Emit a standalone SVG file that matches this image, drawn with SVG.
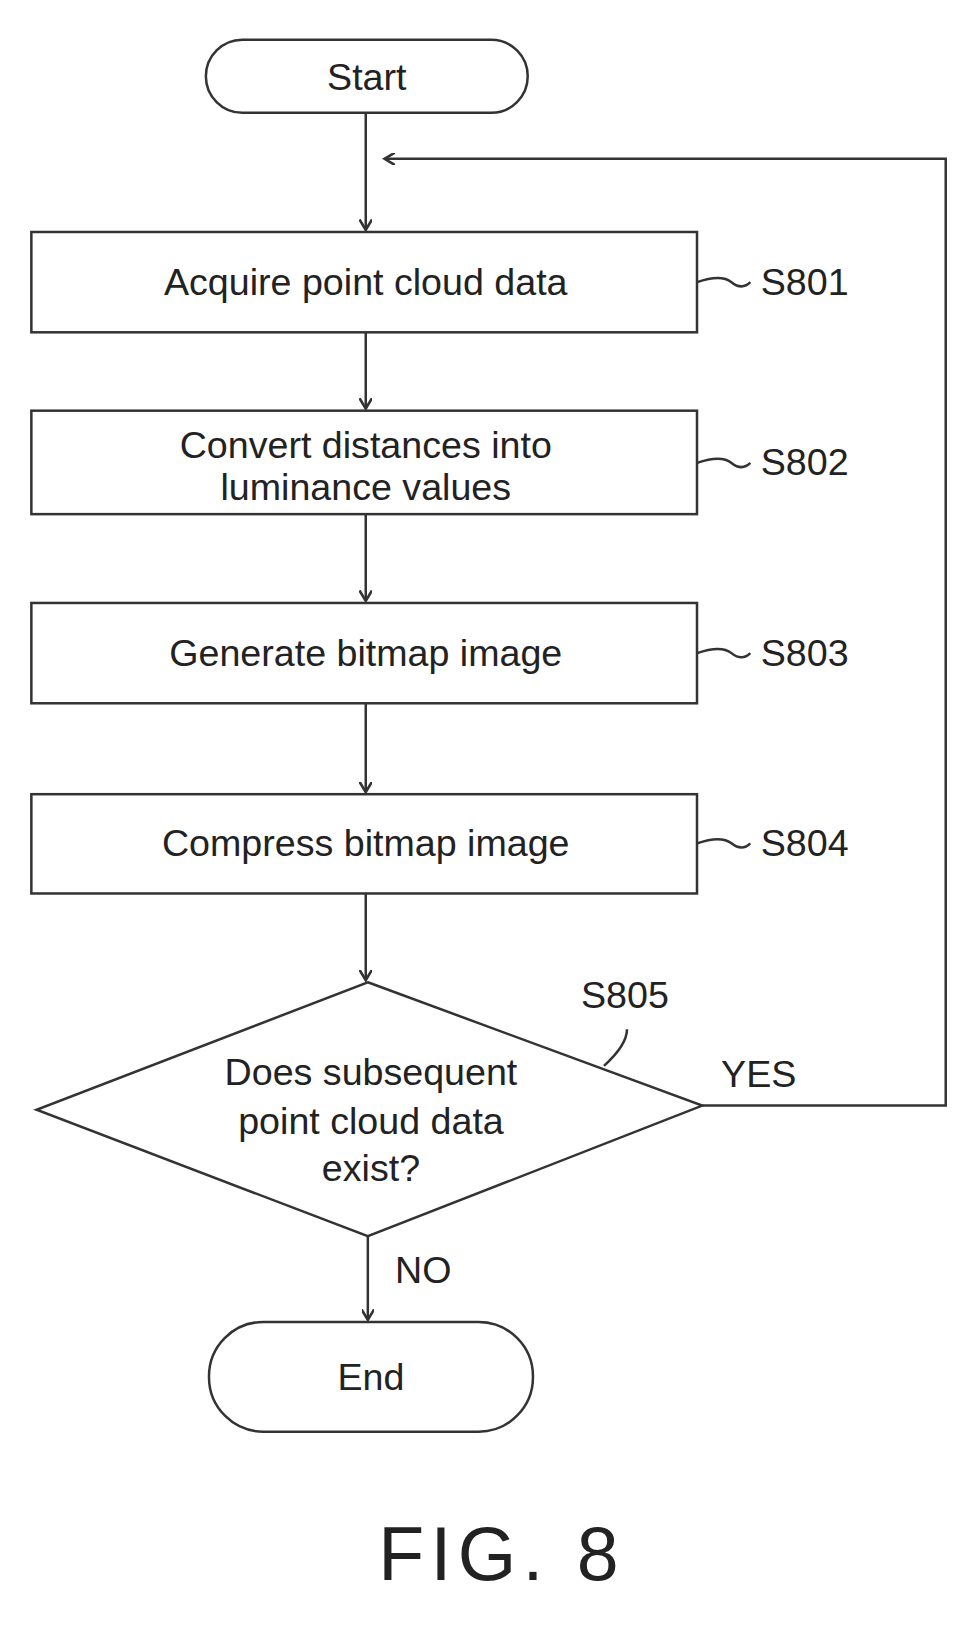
<svg xmlns="http://www.w3.org/2000/svg" width="977" height="1642" viewBox="0 0 977 1642">
<style>
.s{fill:none;stroke:#333;stroke-width:2.4}
.t{font-family:"Liberation Sans",Arial,sans-serif;font-size:36px;fill:#222;text-anchor:middle}
.l{font-family:"Liberation Sans",Arial,sans-serif;font-size:36px;fill:#222}
</style>
<defs><marker id="a" markerWidth="12" markerHeight="12" refX="10" refY="6" orient="auto" markerUnits="userSpaceOnUse"><path d="M0,0 L10,6 L0,12" fill="none" stroke="#333" stroke-width="2.5"/></marker></defs>
<rect width="977" height="1642" fill="#fff"/>
<g transform="scale(1.045)">
<g id="connectors" class="s">
<path d="M350,108 V220" marker-end="url(#a)"/>
<path d="M350,318 V391" marker-end="url(#a)"/>
<path d="M350,492 V575" marker-end="url(#a)"/>
<path d="M350,673 V758" marker-end="url(#a)"/>
<path d="M350,855 V938" marker-end="url(#a)"/>
<path d="M352,1183 V1263" marker-end="url(#a)"/>
<path d="M672,1058 H905 V152 H368" marker-end="url(#a)"/>
<path d="M667,270 Q690,262 700,270 T718,270"/>
<path d="M667,443 Q690,435 700,443 T718,443"/>
<path d="M667,625 Q690,617 700,625 T718,625"/>
<path d="M667,807 Q690,799 700,807 T718,807"/>
<path d="M578,1020 Q600,1000 600,985"/>
</g>
<g id="start"><rect x="197" y="38" width="308" height="70" rx="35" class="s"/><text class="t" x="351" y="86">Start</text></g>
<g id="s801"><rect x="30" y="222" width="637" height="96" class="s"/><text class="t" x="350" y="282">Acquire point cloud data</text><text class="l" x="728" y="282">S801</text></g>
<g id="s802"><rect x="30" y="393" width="637" height="99" class="s"/><text class="t" x="350" y="438">Convert distances into</text><text class="t" x="350" y="478">luminance values</text><text class="l" x="728" y="455">S802</text></g>
<g id="s803"><rect x="30" y="577" width="637" height="96" class="s"/><text class="t" x="350" y="637">Generate bitmap image</text><text class="l" x="728" y="637">S803</text></g>
<g id="s804"><rect x="30" y="760" width="637" height="95" class="s"/><text class="t" x="350" y="819">Compress bitmap image</text><text class="l" x="728" y="819">S804</text></g>
<g id="s805"><path d="M352,940 L672,1058 L352,1183 L35,1062 Z" class="s"/><text class="t" x="355" y="1038">Does subsequent</text><text class="t" x="355" y="1085">point cloud data</text><text class="t" x="355" y="1130">exist?</text><text class="l" x="556" y="965">S805</text><text class="l" x="690" y="1040">YES</text><text class="l" x="378" y="1228">NO</text></g>
<g id="end"><rect x="200" y="1265" width="310" height="105" rx="52" class="s"/><text class="t" x="355" y="1330">End</text></g>
<text x="480" y="1512" font-family="Liberation Sans,Arial,sans-serif" font-size="72" fill="#222" text-anchor="middle" letter-spacing="6">FIG. 8</text>
</g>
</svg>
